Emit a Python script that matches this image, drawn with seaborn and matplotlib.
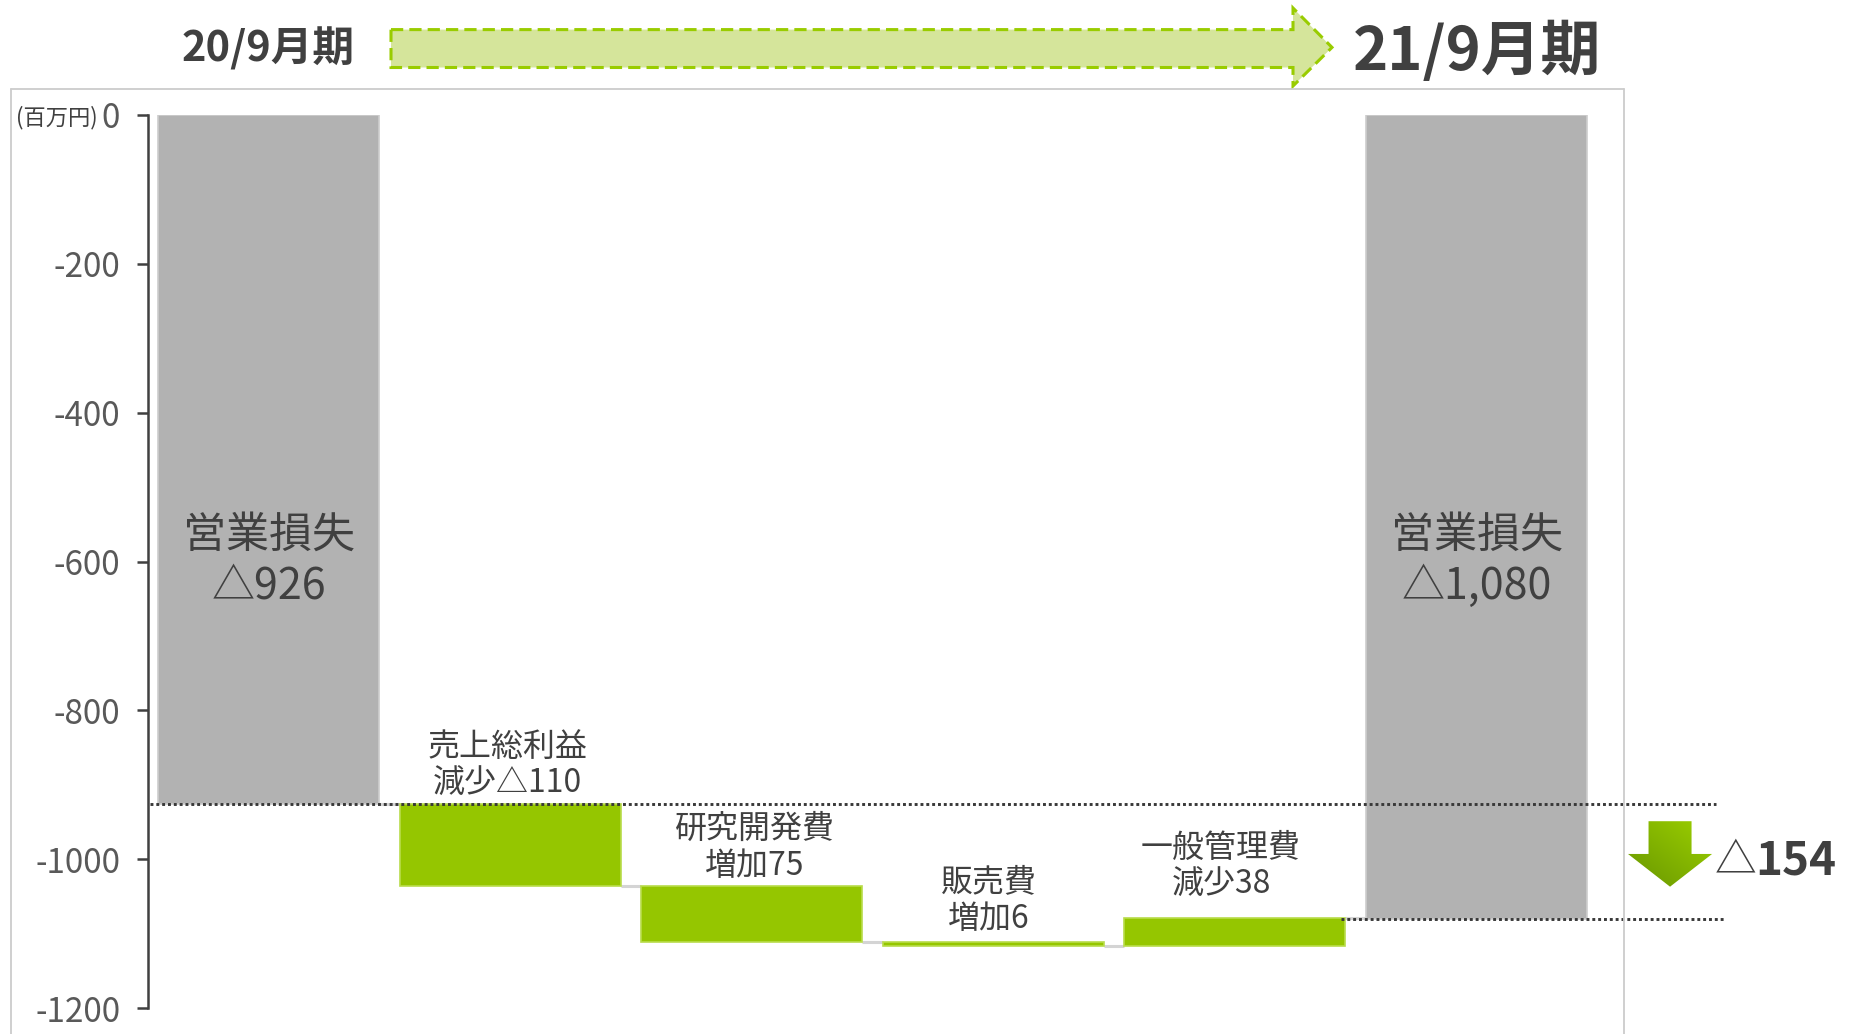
import numpy as np
import pandas as pd
import matplotlib
matplotlib.use("Agg")
import matplotlib.pyplot as plt
import matplotlib.transforms as mtransforms
from matplotlib.patches import Polygon
from matplotlib.lines import Line2D
import seaborn as sns

# Operating loss bridge between two fiscal years (million yen)
periods = ["20/9月期", "21/9月期"]
start_value = -926
end_value = -1080
change_items = ["売上総利益", "研究開発費", "販売費", "一般管理費"]
change_values = [-110, -75, -6, 38]
change_words = ["減少△110", "増加75", "増加6", "減少38"]
total_label = "営業損失"
y_ticks = [0, -200, -400, -600, -800, -1000, -1200]
unit_label = "(百万円)"

sns.set_theme(style="white")
plt.rcParams["font.family"] = ["Noto Sans CJK JP", "DejaVu Sans"]

W, H = 1858, 1034
fig = plt.figure(figsize=(W / 100, H / 100), dpi=100)
fig.patch.set_facecolor("white")


def fx(px):
    return px / W


def fy(py):
    return 1 - py / H


ax = fig.add_axes([fx(148), fy(1008), 1 - fx(148), (1008 - 115) / H])
ax.patch.set_alpha(0)

# ---- waterfall table ----
levels = start_value + np.cumsum(change_values)
cats = [periods[0]] + change_items + [periods[1]]
heights = [start_value] + list(change_values) + [end_value]
bottoms = [0, start_value] + list(levels[:-1]) + [0]
df = pd.DataFrame({"item": cats, "height": heights, "bottom": bottoms})

GRAY = "#b2b2b2"
GREEN = "#95c600"
TEXT = "#404040"
face = [GRAY] + [GREEN] * len(change_items) + [GRAY]
edge = ["#cdcdcd"] + ["#b8dc4a"] * len(change_items) + ["#cdcdcd"]
BAR_W = 0.915

sns.barplot(data=df, x="item", y="height", order=cats, errorbar=None,
            color=GREEN, bottom=df["bottom"].to_numpy(), facecolor=face,
            edgecolor=edge, linewidth=1.2, width=BAR_W, ax=ax, zorder=2)

ax.set_xlim(-0.499, 6.579)
ax.set_ylim(-1200, 0)

# connectors between consecutive bars
running = [start_value] + list(levels)
for i, lv in enumerate(running):
    ax.plot([i + BAR_W / 2, i + 1 - BAR_W / 2], [lv, lv], color="#d4d4d4",
            lw=2.2, solid_capstyle="butt", zorder=1)

# reference lines at the two totals
dot_kw = dict(ls=(0, (1, 1)), color="#383838", lw=2.1, zorder=4, clip_on=False)
ax.plot([-0.49, 5.99], [start_value, start_value], **dot_kw)
ax.plot([4 + BAR_W / 2 - 0.02, 6.03], [end_value, end_value], **dot_kw)

# total labels inside the grey bars
for i, v in [(0, start_value), (len(cats) - 1, end_value)]:
    ax.text(i, -600, f"{total_label}\n△{abs(v):,}", ha="center", va="center",
            fontsize=31, color=TEXT, linespacing=1.2, zorder=5)

# change labels above the green bars
label_shift = [(-2, 3), (2, 3), (-3, 5), (-10, 12)]
for k, (name, word) in enumerate(zip(change_items, change_words)):
    top = max(running[k], running[k + 1])
    ax.annotate(f"{name}\n{word}", xy=(k + 1, top), xytext=label_shift[k],
                textcoords="offset points", ha="center", va="bottom",
                fontsize=23, color=TEXT, linespacing=1.2, zorder=5)

# axis styling
sns.despine(ax=ax, top=True, right=True, bottom=True)
ax.spines["left"].set_color(TEXT)
ax.spines["left"].set_linewidth(1.8)
ax.set_xticks([])
ax.set_xlabel("")
ax.set_ylabel("")
ax.set_yticks(y_ticks)
ax.set_yticklabels([str(t) for t in y_ticks])
ax.tick_params(axis="y", left=True, direction="out", length=8, width=1.8,
               color=TEXT, labelcolor="#595959", labelsize=24, pad=12)

fig.text(fx(16), fy(118), unit_label, ha="left", va="center", fontsize=16,
         color=TEXT)

# down arrow with gradient and the net change
delta = end_value - start_value
mid = (start_value + end_value) / 2
cx, sw, hw = 5.801, 0.089, 0.174
y_top, y_head, y_tip = mid + 54, mid + 10, mid - 34
arrow_pts = [(cx - sw, y_top), (cx + sw, y_top), (cx + sw, y_head),
             (cx + hw, y_head), (cx, y_tip), (cx - hw, y_head), (cx - sw, y_head)]
arrow = Polygon(arrow_pts, closed=True, facecolor="none", edgecolor="none",
                transform=ax.transData)
ax.add_patch(arrow)
u = np.linspace(0, 1, 64)
uu, vv = np.meshgrid(u, u)
t = (uu + vv) / 2
dark = np.array([0x68, 0x96, 0x00]) / 255
light = np.array([0x9c, 0xd0, 0x00]) / 255
img = dark[None, None, :] + t[..., None] * (light - dark)[None, None, :]
im = ax.imshow(img, extent=[cx - hw, cx + hw, y_tip, y_top], origin="lower",
               aspect="auto", zorder=3, interpolation="bilinear")
im.set_clip_path(arrow)
ax.set_xlim(-0.499, 6.579)
ax.set_ylim(-1200, 0)

ax.text(5.987, mid, "△", ha="left", va="center", fontsize=30, color=TEXT,
        zorder=5)
ax.text(6.155, mid, f"{abs(delta)}", ha="left", va="center", fontsize=33,
        fontweight="bold", color=TEXT, zorder=5)

# period headings and the transition arrow
blend = mtransforms.blended_transform_factory(ax.transData, fig.transFigure)
fig.text(0, fy(49), periods[0], transform=blend, ha="center", va="center",
         fontsize=30, fontweight="bold", color=TEXT)
fig.text(len(cats) - 1, fy(52), periods[1], transform=blend, ha="center",
         va="center", fontsize=43, fontweight="bold", color=TEXT)

head_pts = [(391, 29.6), (1293, 29.6), (1293, 8), (1332, 47.4), (1293, 86),
            (1293, 67.5), (391, 67.5)]
fig.patches.append(Polygon([(fx(x), fy(y)) for x, y in head_pts], closed=True,
                           transform=fig.transFigure, facecolor="#d5e59b",
                           edgecolor="#99cc00", lw=2.2, ls=(0, (4, 2))))

# outer panel frame
frame_kw = dict(transform=fig.transFigure, color="#cccccc", lw=1.3)
fig.add_artist(Line2D([fx(11.5), fx(11.5)], [fy(89), 0], **frame_kw))
fig.add_artist(Line2D([fx(11.5), fx(1624)], [fy(89), fy(89)], **frame_kw))
fig.add_artist(Line2D([fx(1624), fx(1624)], [fy(89), 0], **frame_kw))

fig.savefig("out.png", dpi=100, facecolor="white")
